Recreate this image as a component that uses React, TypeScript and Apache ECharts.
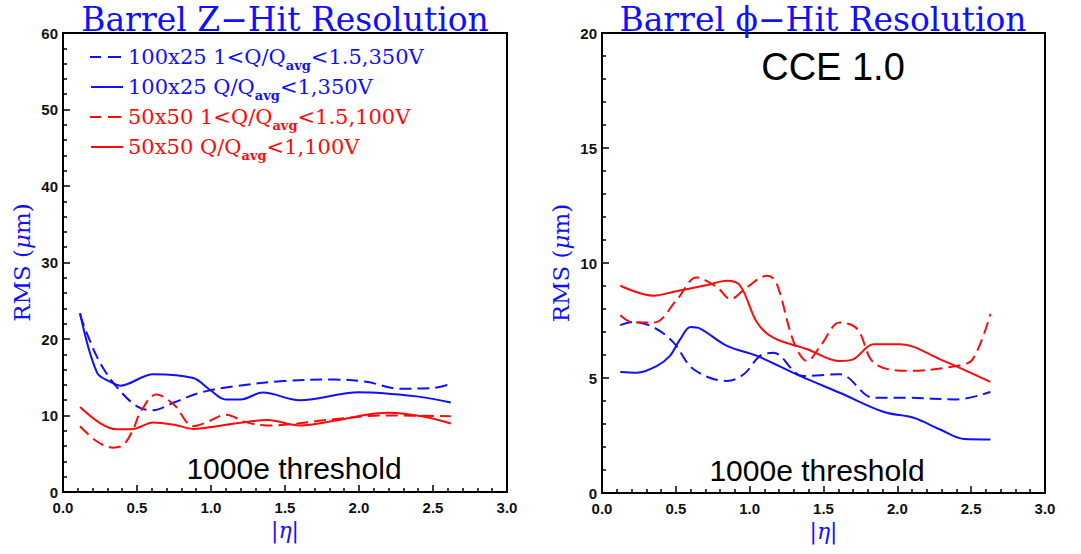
import React, { useEffect, useRef } from "react";
import * as echarts from "echarts";

// ---- Left panel: Barrel Z-Hit Resolution ----
const zBlueDashX = [0.115, 0.16, 0.25, 0.36, 0.5, 0.61, 0.75, 0.93, 1.15, 1.49, 1.83, 2.05, 2.28, 2.5, 2.62];
const zBlueDashY = [23.2, 20.8, 16.9, 13.8, 11.2, 10.7, 11.7, 13.0, 13.8, 14.5, 14.7, 14.4, 13.5, 13.6, 14.1];
const zBlueSolidX = [0.115, 0.23, 0.32, 0.385, 0.61, 0.88, 0.99, 1.1, 1.2, 1.35, 1.6, 2.0, 2.39, 2.62];
const zBlueSolidY = [23.4, 15.6, 14.4, 13.9, 15.4, 14.9, 13.4, 12.1, 12.1, 13.0, 12.0, 13.05, 12.5, 11.7];
const zRedDashX = [0.115, 0.23, 0.34, 0.41, 0.475, 0.52, 0.63, 0.75, 0.88, 0.97, 1.1, 1.24, 1.38, 1.83, 2.16, 2.62];
const zRedDashY = [8.6, 6.6, 5.8, 6.2, 8.2, 10.3, 12.75, 11.4, 8.6, 9.1, 10.1, 9.1, 8.7, 9.5, 10.0, 9.9];
const zRedSolidX = [0.115, 0.25, 0.36, 0.475, 0.61, 0.75, 0.88, 1.04, 1.38, 1.6, 1.83, 2.05, 2.2, 2.45, 2.62];
const zRedSolidY = [11.1, 9.0, 8.2, 8.25, 9.1, 8.8, 8.25, 8.6, 9.4, 8.7, 9.3, 10.1, 10.35, 9.8, 8.95];

// ---- Right panel: Barrel phi-Hit Resolution ----
const pBlueDashX = [0.124, 0.21, 0.35, 0.485, 0.62, 0.846, 0.96, 1.07, 1.16, 1.36, 1.61, 1.84, 2.06, 2.4, 2.63];
const pBlueDashY = [7.3, 7.44, 7.2, 6.54, 5.38, 4.87, 5.16, 5.96, 6.1, 5.09, 5.16, 4.14, 4.14, 4.07, 4.39];
const pBlueSolidX = [0.124, 0.237, 0.37, 0.46, 0.53, 0.6, 0.665, 0.846, 1.05, 1.34, 1.61, 1.91, 2.11, 2.29, 2.45, 2.63];
const pBlueSolidY = [5.26, 5.23, 5.52, 5.96, 6.69, 7.22, 7.15, 6.4, 5.96, 5.09, 4.36, 3.52, 3.27, 2.76, 2.35, 2.33];
const pRedDashX = [0.124, 0.21, 0.35, 0.51, 0.64, 0.78, 0.87, 0.98, 1.12, 1.18, 1.3, 1.39, 1.48, 1.61, 1.73, 1.84, 2.06, 2.4, 2.51, 2.63];
const pRedDashY = [7.73, 7.41, 7.41, 8.43, 9.37, 8.94, 8.43, 8.94, 9.45, 9.16, 6.54, 5.74, 6.4, 7.41, 7.12, 5.67, 5.31, 5.52, 5.81, 7.78];
const pRedSolidX = [0.124, 0.35, 0.485, 0.71, 0.846, 0.936, 1.05, 1.16, 1.39, 1.61, 1.7, 1.84, 2.02, 2.29, 2.63];
const pRedSolidY = [9.01, 8.58, 8.75, 9.04, 9.23, 9.01, 7.41, 6.76, 6.25, 5.74, 5.81, 6.47, 6.47, 5.81, 4.83];

// ---- Axes ----
const xTickValues = [0, 0.5, 1.0, 1.5, 2.0, 2.5, 3.0];
const zYMax = 60;
const zYInterval = 10;
const pYMax = 20;
const pYInterval = 5;

// ---- Legend ----
const legendPrefix = ["100x25 1<Q/Q", "100x25 Q/Q", "50x50 1<Q/Q", "50x50 Q/Q"];
const legendSuffix = ["<1.5,350V", "<1,350V", "<1.5,100V", "<1,100V"];
const legendSub = "avg";
const legendDashed = [true, false, true, false];

const titles = ["Barrel Z\u2212Hit Resolution", "Barrel \u03d5\u2212Hit Resolution"];

const BLUE = "#1010ff";
const RED = "#ff0a0a";
const legendColors = [BLUE, BLUE, RED, RED];

const zip = (xs: number[], ys: number[]) => xs.map((x, i) => [x, ys[i]]);

export default function App() {
  const ref = useRef<HTMLDivElement>(null);
  useEffect(() => {
    document.body.style.margin = "0";
    const chart = echarts.init(ref.current!, null, { renderer: "svg" });
    const grids = [
      { left: 63, top: 33, width: 444, height: 459 },
      { left: 602, top: 33, width: 443, height: 460 },
    ];
    const mkX = (gi: number) => ({
      type: "value",
      gridIndex: gi,
      min: 0,
      max: 3,
      interval: 0.5,
      name: "|{i|\u03b7}|",
      nameLocation: "middle",
      nameGap: 24,
      nameTextStyle: {
        color: BLUE,
        fontFamily: "DejaVu Serif",
        fontSize: 22,
        rich: { i: { fontFamily: "DejaVu Serif", fontStyle: "italic", fontSize: 22, color: BLUE } },
      },
      axisLine: { show: true, lineStyle: { color: "#000", width: 2 } },
      axisTick: { show: true, inside: true, length: 7, lineStyle: { color: "#000", width: 1.5 } },
      minorTick: { show: true, splitNumber: 5, length: 4, lineStyle: { color: "#000", width: 1.5 } },
      splitLine: { show: false },
      axisLabel: {
        color: "#111",
        fontFamily: "Liberation Sans",
        fontWeight: "bold",
        fontSize: 15,
        margin: 8,
        formatter: (v: number) => (xTickValues.includes(v) ? v.toFixed(1) : ""),
      },
    });
    const mkY = (gi: number, max: number, interval: number) => ({
      type: "value",
      gridIndex: gi,
      min: 0,
      max,
      interval,
      name: "RMS ({i|\u03bc}m)",
      nameLocation: "middle",
      nameGap: 30,
      nameRotate: 90,
      nameTextStyle: {
        color: BLUE,
        fontFamily: "DejaVu Serif",
        fontSize: 23,
        rich: { i: { fontFamily: "DejaVu Serif", fontStyle: "italic", fontSize: 23, color: BLUE } },
      },
      axisLine: { show: true, lineStyle: { color: "#000", width: 2 } },
      axisTick: { show: true, inside: true, length: 7, lineStyle: { color: "#000", width: 1.5 } },
      minorTick: { show: true, splitNumber: 5, length: 4, lineStyle: { color: "#000", width: 1.5 } },
      splitLine: { show: false },
      axisLabel: {
        color: "#111",
        fontFamily: "Liberation Sans",
        fontWeight: "bold",
        fontSize: 15,
        margin: 5,
      },
    });
    const mkS = (gi: number, xs: number[], ys: number[], color: string, dashed: boolean) => ({
      type: "line",
      xAxisIndex: gi,
      yAxisIndex: gi,
      data: zip(xs, ys),
      smooth: 0.35,
      showSymbol: false,
      symbol: "none",
      lineStyle: { color, width: 2, type: dashed ? [12, 6] : "solid" },
      z: 3,
    });

    const legendEls: any[] = [];
    legendPrefix.forEach((p, i) => {
      const y = 57 + i * 30;
      const c = legendColors[i];
      if (legendDashed[i]) {
        legendEls.push({ type: "line", shape: { x1: 90, y1: y, x2: 101, y2: y }, style: { stroke: c, lineWidth: 2 } });
        legendEls.push({ type: "line", shape: { x1: 108, y1: y, x2: 121, y2: y }, style: { stroke: c, lineWidth: 2 } });
      } else {
        legendEls.push({ type: "line", shape: { x1: 91, y1: y, x2: 123, y2: y }, style: { stroke: c, lineWidth: 2 } });
      }
      legendEls.push({
        type: "text",
        x: 128,
        y,
        style: {
          text: `{m|${p}}{s|${legendSub}}{m|${legendSuffix[i]}}`,
          fill: c,
          verticalAlign: "middle",
          align: "left",
          rich: {
            m: { fontFamily: "DejaVu Serif", fontSize: 21, lineHeight: 30, fill: c, color: c },
            s: { fontFamily: "DejaVu Serif", fontSize: 13, fontWeight: "bold", lineHeight: 12, verticalAlign: "bottom", fill: c, color: c },
          },
        },
      });
    });

    chart.setOption({
      animation: false,
      backgroundColor: "#fff",
      grid: grids.map((g) => ({ ...g, show: true, borderColor: "#000", borderWidth: 2, backgroundColor: "transparent" })),
      xAxis: [mkX(0), mkX(1)],
      yAxis: [mkY(0, zYMax, zYInterval), mkY(1, pYMax, pYInterval)],
      series: [
        mkS(0, zBlueDashX, zBlueDashY, BLUE, true),
        mkS(0, zBlueSolidX, zBlueSolidY, BLUE, false),
        mkS(0, zRedDashX, zRedDashY, RED, true),
        mkS(0, zRedSolidX, zRedSolidY, RED, false),
        mkS(1, pBlueDashX, pBlueDashY, BLUE, true),
        mkS(1, pBlueSolidX, pBlueSolidY, BLUE, false),
        mkS(1, pRedDashX, pRedDashY, RED, true),
        mkS(1, pRedSolidX, pRedSolidY, RED, false),
      ],
      graphic: [
        {
          type: "text",
          x: 285,
          y: 19,
          style: { text: titles[0], fill: BLUE, fontFamily: "DejaVu Serif", fontSize: 33, align: "center", verticalAlign: "middle" },
        },
        {
          type: "text",
          x: 823,
          y: 19,
          style: { text: titles[1], fill: BLUE, fontFamily: "DejaVu Serif", fontSize: 33, align: "center", verticalAlign: "middle" },
        },
        {
          type: "text",
          x: 294,
          y: 468,
          style: { text: "1000e threshold", fill: "#000", fontFamily: "Liberation Sans", fontSize: 30, align: "center", verticalAlign: "middle" },
        },
        {
          type: "text",
          x: 817,
          y: 470,
          style: { text: "1000e threshold", fill: "#000", fontFamily: "Liberation Sans", fontSize: 30, align: "center", verticalAlign: "middle" },
        },
        {
          type: "text",
          x: 833,
          y: 67,
          style: { text: "CCE 1.0", fill: "#000", fontFamily: "Liberation Sans", fontSize: 38, align: "center", verticalAlign: "middle" },
        },
        ...legendEls,
      ],
    });
    return () => chart.dispose();
  }, []);
  return <div ref={ref} style={{ position: "fixed", left: 0, top: 0, width: 1081, height: 554 }} />;
}
